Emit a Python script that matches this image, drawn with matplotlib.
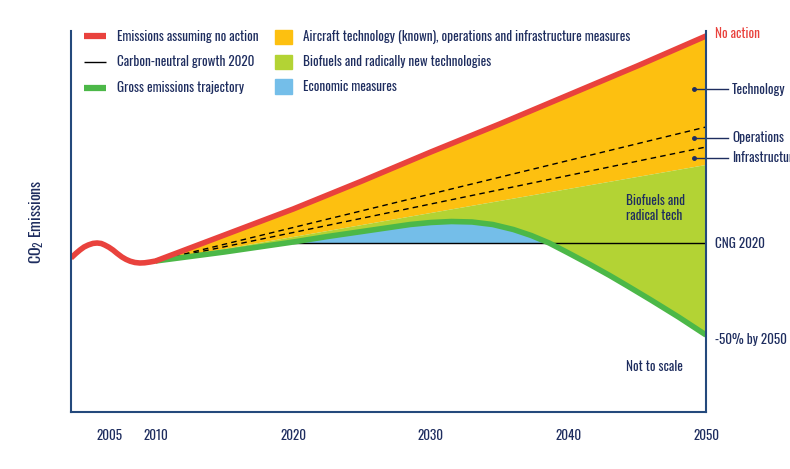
import numpy as np
import matplotlib
matplotlib.use('Agg')
import matplotlib.pyplot as plt
from matplotlib.lines import Line2D
from matplotlib.patches import Patch

plt.rcParams['font.family'] = ['Oswald', 'DejaVu Sans']
plt.rcParams['mathtext.fontset'] = 'custom'
plt.rcParams['mathtext.rm'] = 'Oswald'
plt.rcParams['mathtext.it'] = 'Oswald'

# --- data (arbitrary units, not to scale) ---
pre_years = [2003.85, 2004.2, 2004.5, 2004.8, 2005.1, 2005.45, 2005.75, 2006.05, 2006.3,
             2006.6, 2006.9, 2007.2, 2007.55, 2007.85, 2008.15, 2008.5, 2008.85, 2009.2, 2009.6, 2010]
pre_emissions = [154, 158.5, 162, 165, 167, 168.6, 169, 168.5, 167, 164.8, 162, 158.6, 155,
                 152.6, 150.8, 149.5, 149, 149.2, 150, 151]

years = [2010, 2015, 2020, 2025, 2030, 2035, 2040, 2045, 2050]
no_action = [151, 177, 203, 231, 260, 288, 317, 346, 376]

line_years = [2010, 2050]
operations = [151, 285]
infrastructure = [151, 265]
technology_floor = [151, 247]   # lower edge of the technology / ops / infra wedge

gross_years = [2010, 2015, 2020, 2022.5, 2025, 2027, 2028.5, 2030, 2031.5, 2033, 2034.5,
               2036, 2037.3, 2038.6, 2040, 2041.5, 2043, 2044.3, 2046, 2048, 2050]
gross = [151, 160, 170, 175.5, 180.5, 184.5, 187.5, 189.5, 190.5, 190, 187.5,
         182.5, 176.5, 169, 159, 148, 136.5, 126, 112, 95, 77]

cng_years = [2020, 2050]
cng_level = [169, 169]

tick_pos = [2006.67, 2010, 2020, 2030, 2040, 2050]
tick_labels = ['2005', '2010', '2020', '2030', '2040', '2050']

RED = '#e9423d'
ORANGE = '#fdc010'
LIME = '#b3d334'
GREEN = '#4cb848'
BLUE = '#74bee9'
NAVY = '#1e2d5f'
SPINE = '#24497c'

fig = plt.figure(figsize=(7.9, 4.69), dpi=100)
ax = fig.add_axes([71 / 790, 57 / 469, 635 / 790, 381 / 469])

# filled wedges
ax.fill(years + line_years[::-1], no_action + technology_floor[::-1], color=ORANGE, lw=0)
ax.fill(line_years + gross_years[::-1], technology_floor + gross[::-1], color=LIME, lw=0)
g = np.array(gross)
ax.fill_between(gross_years, 169, g, where=g >= 169, interpolate=True, color=BLUE, lw=0)

ax.plot(line_years, operations, color='black', lw=1, dashes=(4, 3))
ax.plot(line_years, infrastructure, color='black', lw=1, dashes=(4, 3))
ax.plot(cng_years, cng_level, color='black', lw=1)

ax.plot(gross_years, gross, color=GREEN, lw=4, solid_capstyle='butt', solid_joinstyle='round')
ax.plot(pre_years + years[1:], pre_emissions + no_action[1:], color=RED, lw=4,
        solid_capstyle='butt', solid_joinstyle='round')

ax.set_xlim(2003.85, 2050)
ax.set_ylim(0, 381)
ax.set_xticks(tick_pos)
ax.set_xticklabels(tick_labels)
ax.set_yticks([])
ax.tick_params(axis='x', length=0, pad=12.5, labelsize=9.5, labelcolor=NAVY)
ax.spines['top'].set_visible(False)
for s in ['left', 'bottom', 'right']:
    ax.spines[s].set_color(SPINE)
    ax.spines[s].set_linewidth(1.5)

fig.text(37 / 790, 1 - 222 / 469, r'CO$_{\mathrm{2}}$ Emissions', rotation=90,
         ha='center', va='center', fontsize=11.5, color=NAVY)

# right-hand annotations
ax.text(2050.65, 379, 'No action', color=RED, fontsize=9.5, va='center', clip_on=False)
for label, yv in [('Technology', 323), ('Operations', 274), ('Infrastructure', 254)]:
    ax.plot([2049.13], [yv], 'o', color=NAVY, ms=2.5, clip_on=False)
    ax.plot([2049.13, 2051.6], [yv, yv], color=NAVY, lw=1, clip_on=False)
    ax.text(2051.89, yv, label, color=NAVY, fontsize=9.5, va='center', clip_on=False)
ax.text(2050.65, 169, 'CNG 2020', color=NAVY, fontsize=9.5, va='center', clip_on=False)
ax.text(2050.65, 72, '-50% by 2050', color=NAVY, fontsize=9.5, va='center', clip_on=False)
ax.text(2044.18, 204, 'Biofuels and\nradical tech', color=NAVY, fontsize=9.5,
        va='center', linespacing=1.25)
ax.text(2044.18, 46, 'Not to scale', color=NAVY, fontsize=9.5, va='center')

# legends
line_handles = [Line2D([], [], color=RED, lw=4.5, solid_capstyle='butt'),
                Line2D([], [], color='black', lw=1, solid_capstyle='butt'),
                Line2D([], [], color=GREEN, lw=4.5, solid_capstyle='butt')]
line_labels = ['Emissions assuming no action', 'Carbon-neutral growth 2020',
               'Gross emissions trajectory']
leg1 = fig.legend(line_handles, line_labels, loc='upper left',
                  bbox_to_anchor=(77 / 790, 1 - 23 / 469), frameon=False,
                  borderpad=0, handlelength=1.7, handletextpad=0.8,
                  labelspacing=0.97, fontsize=9.5, labelcolor=NAVY)

patch_handles = [Patch(color=ORANGE), Patch(color=LIME), Patch(color=BLUE)]
patch_labels = ['Aircraft technology (known), operations and infrastructure measures',
                'Biofuels and radically new technologies', 'Economic measures']
leg2 = fig.legend(patch_handles, patch_labels, loc='upper left',
                  bbox_to_anchor=(268 / 790, 1 - 23 / 469), frameon=False,
                  borderpad=0, handlelength=1.35, handleheight=1.3, handletextpad=0.8,
                  labelspacing=0.78, fontsize=9.5, labelcolor=NAVY)

fig.savefig('out.png', dpi=100)
